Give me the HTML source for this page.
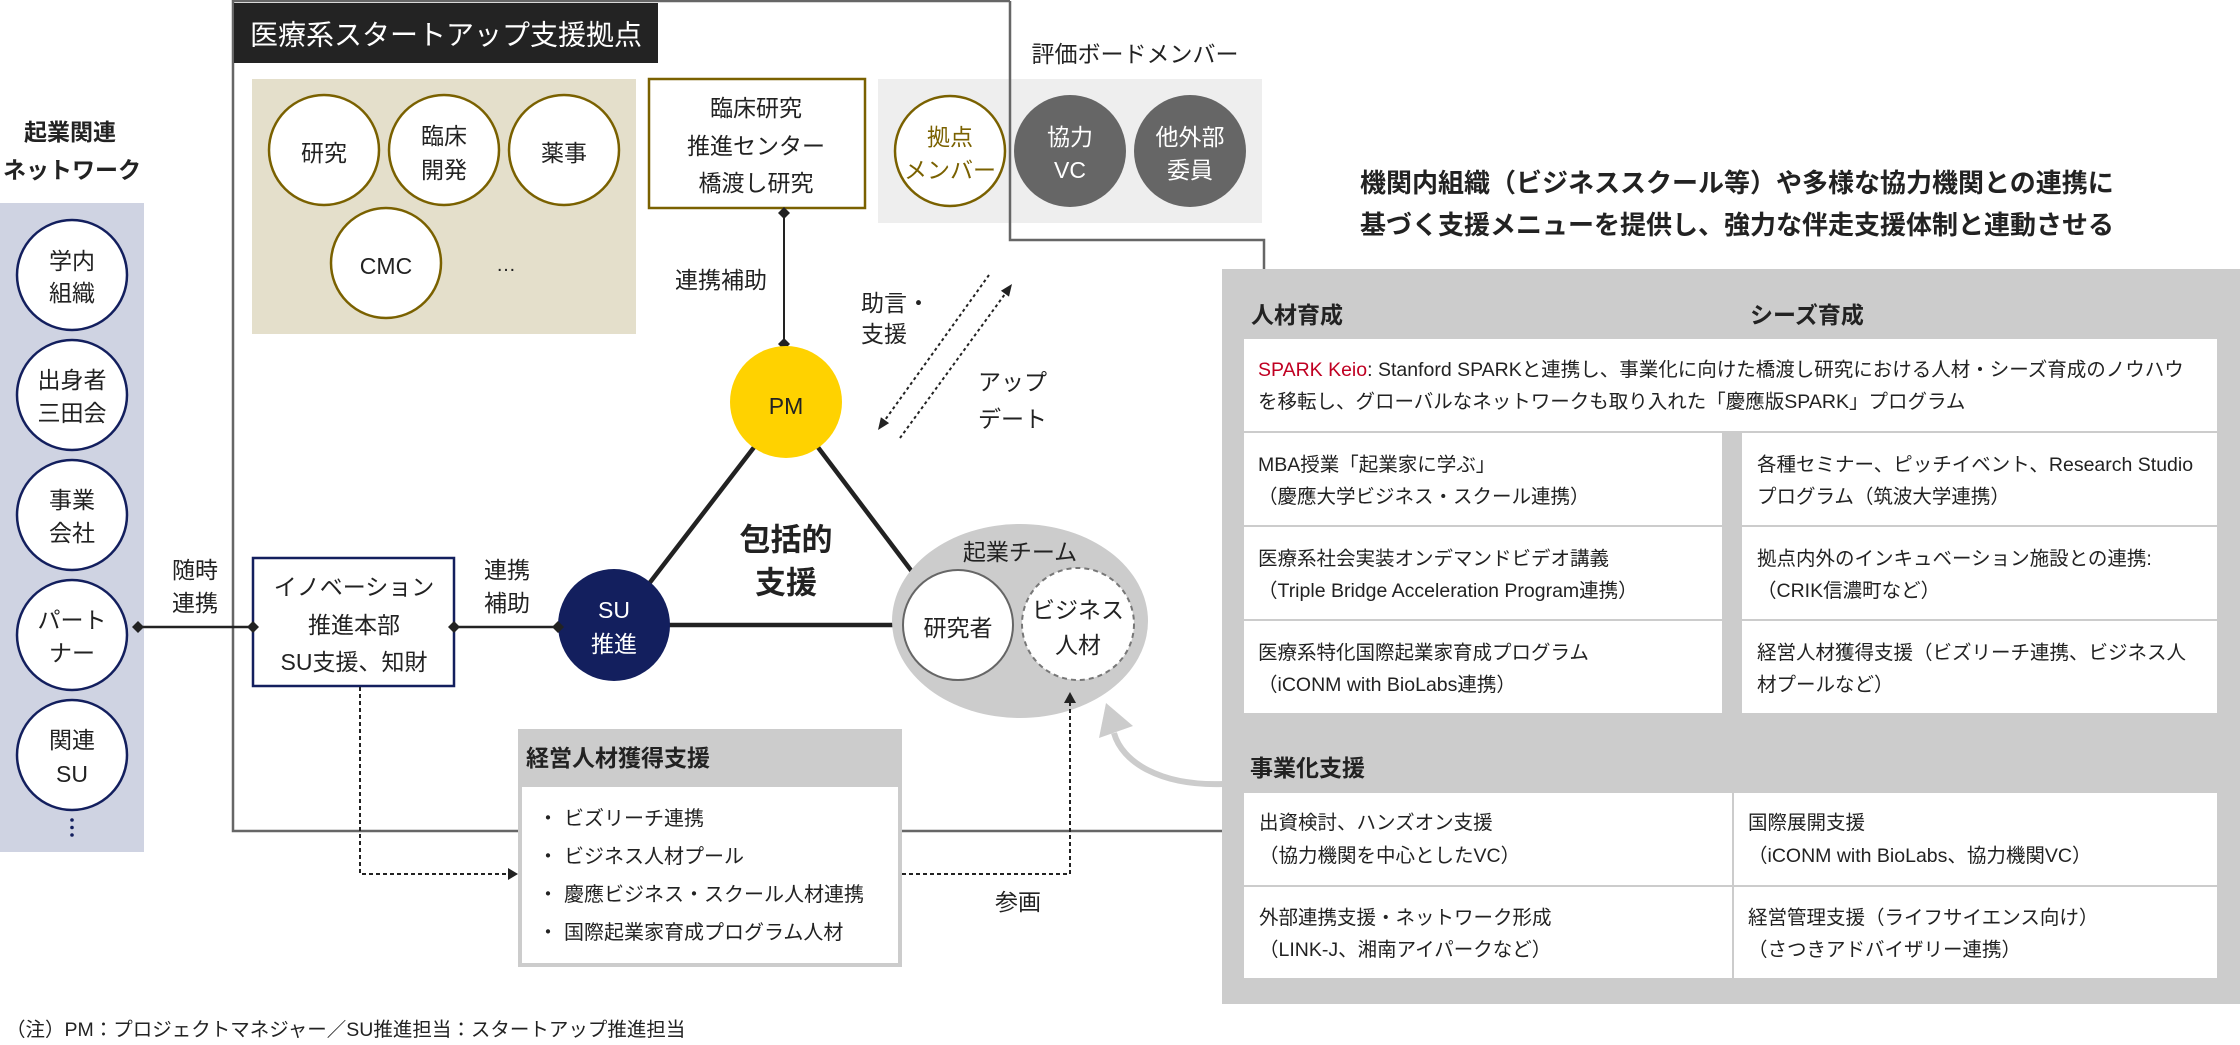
<!DOCTYPE html>
<html lang="ja">
<head>
<meta charset="utf-8">
<style>
html,body{margin:0;padding:0;background:#fff;}
body{width:2240px;height:1045px;overflow:hidden;}
svg{display:block;}
text{font-family:"Liberation Sans","Noto Sans CJK JP",sans-serif;dominant-baseline:central;fill:#222;}
.g{fill:#7a6100;}
.n{fill:#131f5e;}
.w{fill:#fff;}
.b{font-weight:bold;}
.s23{font-size:23px;}
.s20{font-size:19.5px;}
</style>
</head>
<body>
<svg width="2240" height="1045" viewBox="0 0 2240 1045" xmlns="http://www.w3.org/2000/svg">
  <!-- board gray area (under outer line) -->
  <rect x="878" y="79" width="384" height="144" fill="#eeeeee"/>

  <!-- outer box lines -->
  <path d="M1010,1 H233 V831 H1222" fill="none" stroke="#666" stroke-width="2.5"/>
  <path d="M1010,1 V240 H1264 V269" fill="none" stroke="#666" stroke-width="2.5"/>

  <!-- header -->
  <rect x="234" y="3" width="424" height="60" fill="#232323"/>
  <text x="446" y="35" text-anchor="middle" class="w" style="font-size:28px">医療系スタートアップ支援拠点</text>

  <!-- beige area -->
  <rect x="252" y="79" width="384" height="255" fill="#e4dfcb"/>
  <g fill="#fff" stroke="#7a6100" stroke-width="2.5">
    <circle cx="324" cy="150" r="55"/>
    <circle cx="444" cy="150" r="55"/>
    <circle cx="564" cy="150" r="55"/>
    <circle cx="386" cy="263" r="55"/>
  </g>
  <g class="g s23" text-anchor="middle">
    <text x="324" y="153">研究</text>
    <text x="444" y="136">臨床</text>
    <text x="444" y="170">開発</text>
    <text x="564" y="153">薬事</text>
    <text x="386" y="266">CMC</text>
    <text x="506" y="271" style="font-size:20px;dominant-baseline:alphabetic">…</text>
  </g>

  <!-- 臨床研究 box -->
  <rect x="649" y="79" width="216" height="129" fill="#fff" stroke="#7a6100" stroke-width="2.5"/>
  <g class="g s23" text-anchor="middle">
    <text x="756" y="108">臨床研究</text>
    <text x="756" y="146">推進センター</text>
    <text x="756" y="183">橋渡し研究</text>
  </g>

  <!-- board members -->
  <text x="1135" y="54" text-anchor="middle" class="s23">評価ボードメンバー</text>
  <circle cx="950" cy="151" r="55" fill="#fff" stroke="#7a6100" stroke-width="2.5"/>
  <circle cx="1070" cy="151" r="56" fill="#666"/>
  <circle cx="1190" cy="151" r="56" fill="#666"/>
  <g class="s23" text-anchor="middle">
    <text x="950" y="137" class="g">拠点</text>
    <text x="950" y="170" class="g">メンバー</text>
    <text x="1070" y="137" class="w">協力</text>
    <text x="1070" y="170" class="w">VC</text>
    <text x="1190" y="137" class="w">他外部</text>
    <text x="1190" y="170" class="w">委員</text>
  </g>

  <!-- 連携補助 vertical connector -->
  <line x1="784" y1="213" x2="784" y2="344" stroke="#222" stroke-width="2"/>
  <polygon points="778,213 784,207 790,213 784,219" fill="#222"/>
  <polygon points="778,344 784,338 790,344 784,350" fill="#222"/>
  <text x="721" y="280" text-anchor="middle" class="s23">連携補助</text>

  <!-- dotted advice arrows -->
  <line x1="989" y1="275" x2="885" y2="420" stroke="#222" stroke-width="2" stroke-dasharray="3 3"/>
  <polygon points="878,430 889.1,423.1 880.9,417.3" fill="#222"/>
  <line x1="900" y1="438" x2="1005" y2="294" stroke="#222" stroke-width="2" stroke-dasharray="3 3"/>
  <polygon points="1012,284 1009,296.6 1000.9,290.8" fill="#222"/>
  <g class="s23">
    <text x="861" y="303">助言・</text>
    <text x="861" y="334">支援</text>
    <text x="978" y="382">アップ</text>
    <text x="978" y="419">デート</text>
  </g>

  <!-- triangle -->
  <g stroke="#222" stroke-width="4.5">
    <line x1="755" y1="446" x2="648" y2="585"/>
    <line x1="817" y1="446" x2="913" y2="573"/>
    <line x1="668" y1="625" x2="894" y2="625"/>
  </g>
  <text x="786" y="540" text-anchor="middle" class="b" style="font-size:31px">包括的</text>
  <text x="786" y="583" text-anchor="middle" class="b" style="font-size:31px">支援</text>

  <!-- PM -->
  <circle cx="786" cy="402" r="56" fill="#ffd200"/>
  <text x="786" y="406" text-anchor="middle" class="s23">PM</text>

  <!-- SU circle -->
  <circle cx="614" cy="625" r="56" fill="#131f5e"/>
  <text x="614" y="610" text-anchor="middle" class="w s23">SU</text>
  <text x="614" y="644" text-anchor="middle" class="w s23">推進</text>

  <!-- team ellipse -->
  <ellipse cx="1020" cy="621" rx="128" ry="97" fill="#cccccc"/>
  <text x="1020" y="552" text-anchor="middle" class="s23">起業チーム</text>
  <circle cx="958" cy="625" r="55" fill="#fff" stroke="#666" stroke-width="2"/>
  <circle cx="1078" cy="624" r="56" fill="#fff" stroke="#777" stroke-width="2" stroke-dasharray="5 4"/>
  <text x="958" y="628" text-anchor="middle" class="s23">研究者</text>
  <text x="1078" y="610" text-anchor="middle" class="s23">ビジネス</text>
  <text x="1078" y="645" text-anchor="middle" class="s23">人材</text>

  <!-- left panel -->
  <text x="70" y="132" text-anchor="middle" class="b s23">起業関連</text>
  <text x="72" y="170" text-anchor="middle" class="b s23">ネットワーク</text>
  <rect x="0" y="203" width="144" height="649" fill="#cfd3e2"/>
  <g fill="#fff" stroke="#131f5e" stroke-width="2.5">
    <circle cx="72" cy="275" r="55"/>
    <circle cx="72" cy="395" r="55"/>
    <circle cx="72" cy="515" r="55"/>
    <circle cx="72" cy="635" r="55"/>
    <circle cx="72" cy="755" r="55"/>
  </g>
  <g class="n s23" text-anchor="middle">
    <text x="72" y="261">学内</text>
    <text x="72" y="293">組織</text>
    <text x="72" y="380">出身者</text>
    <text x="72" y="413">三田会</text>
    <text x="72" y="500">事業</text>
    <text x="72" y="533">会社</text>
    <text x="72" y="620">パート</text>
    <text x="72" y="653">ナー</text>
    <text x="72" y="740">関連</text>
    <text x="72" y="774">SU</text>
  </g>
  <g fill="#131f5e">
    <circle cx="72" cy="820" r="1.8"/>
    <circle cx="72" cy="827.5" r="1.8"/>
    <circle cx="72" cy="835" r="1.8"/>
  </g>

  <!-- 随時連携 connector -->
  <line x1="138" y1="627" x2="253" y2="627" stroke="#222" stroke-width="2.5"/>
  <polygon points="132,627 138,621 144,627 138,633" fill="#222"/>
  <text x="195" y="570" text-anchor="middle" class="s23">随時</text>
  <text x="195" y="603" text-anchor="middle" class="s23">連携</text>

  <!-- innovation box -->
  <rect x="253" y="558" width="201" height="128" fill="#fff" stroke="#131f5e" stroke-width="2.5"/>
  <polygon points="247,627 253,621 259,627 253,633" fill="#222"/>
  <g class="n s23" text-anchor="middle">
    <text x="354" y="587">イノベーション</text>
    <text x="354" y="625">推進本部</text>
    <text x="354" y="662">SU支援、知財</text>
  </g>

  <!-- 連携補助 horizontal -->
  <line x1="454" y1="627" x2="558" y2="627" stroke="#222" stroke-width="2.5"/>
  <polygon points="448,627 454,621 460,627 454,633" fill="#222"/>
  <polygon points="552,627 558,621 564,627 558,633" fill="#222"/>
  <text x="507" y="570" text-anchor="middle" class="s23">連携</text>
  <text x="507" y="603" text-anchor="middle" class="s23">補助</text>

  <!-- dotted connectors bottom -->
  <path d="M360,687 V874 H508" fill="none" stroke="#222" stroke-width="2" stroke-dasharray="4 3"/>
  <polygon points="518,874 508,868 508,880" fill="#222"/>
  <path d="M902,874 H1070 V702" fill="none" stroke="#222" stroke-width="2" stroke-dasharray="4 3"/>
  <polygon points="1070,692 1064,703 1076,703" fill="#222"/>
  <text x="1018" y="902" text-anchor="middle" class="s23">参画</text>

  <!-- 経営人材獲得支援 box -->
  <rect x="518" y="729" width="384" height="238" fill="#cccccc"/>
  <rect x="522" y="787" width="376" height="176" fill="#fff"/>
  <text x="526" y="758" class="b s23">経営人材獲得支援</text>
  <g style="font-size:20px">
    <text x="538" y="819">・</text><text x="564" y="819">ビズリーチ連携</text>
    <text x="538" y="857">・</text><text x="564" y="857">ビジネス人材プール</text>
    <text x="538" y="895">・</text><text x="564" y="895">慶應ビジネス・スクール人材連携</text>
    <text x="538" y="933">・</text><text x="564" y="933">国際起業家育成プログラム人材</text>
  </g>

  <!-- headline -->
  <text x="1360" y="183" class="b" style="font-size:26px">機関内組織（ビジネススクール等）や多様な協力機関との連携に</text>
  <text x="1360" y="225" class="b" style="font-size:26px">基づく支援メニューを提供し、強力な伴走支援体制と連動させる</text>

  <!-- right panel -->
  <rect x="1222" y="269" width="1018" height="735" fill="#cccccc"/>
  <text x="1251" y="315" class="b s23">人材育成</text>
  <text x="1750" y="315" class="b s23">シーズ育成</text>
  <g fill="#fff">
    <rect x="1244" y="339" width="973" height="92"/>
    <rect x="1244" y="433" width="478" height="92"/>
    <rect x="1742" y="433" width="475" height="92"/>
    <rect x="1244" y="527" width="478" height="92"/>
    <rect x="1742" y="527" width="475" height="92"/>
    <rect x="1244" y="621" width="478" height="92"/>
    <rect x="1742" y="621" width="475" height="92"/>
    <rect x="1244" y="793" width="488" height="92"/>
    <rect x="1734" y="793" width="483" height="92"/>
    <rect x="1244" y="887" width="488" height="91"/>
    <rect x="1734" y="887" width="483" height="91"/>
  </g>
  <g class="s20">
    <text x="1258" y="370"><tspan fill="#c00022">SPARK Keio</tspan>: Stanford SPARKと連携し、事業化に向けた橋渡し研究における人材・シーズ育成のノウハウ</text>
    <text x="1258" y="402">を移転し、グローバルなネットワークも取り入れた「慶應版SPARK」プログラム</text>

    <text x="1258" y="465">MBA授業「起業家に学ぶ」</text>
    <text x="1258" y="497">（慶應大学ビジネス・スクール連携）</text>
    <text x="1757" y="465">各種セミナー、ピッチイベント、Research Studio</text>
    <text x="1757" y="497">プログラム（筑波大学連携）</text>

    <text x="1258" y="559">医療系社会実装オンデマンドビデオ講義</text>
    <text x="1258" y="591">（Triple Bridge Acceleration Program連携）</text>
    <text x="1757" y="559">拠点内外のインキュベーション施設との連携:</text>
    <text x="1757" y="591">（CRIK信濃町など）</text>

    <text x="1258" y="653">医療系特化国際起業家育成プログラム</text>
    <text x="1258" y="685">（iCONM with BioLabs連携）</text>
    <text x="1757" y="653">経営人材獲得支援（ビズリーチ連携、ビジネス人</text>
    <text x="1757" y="685">材プールなど）</text>

    <text x="1259" y="823">出資検討、ハンズオン支援</text>
    <text x="1259" y="856">（協力機関を中心としたVC）</text>
    <text x="1748" y="823">国際展開支援</text>
    <text x="1748" y="856">（iCONM with BioLabs、協力機関VC）</text>

    <text x="1259" y="918">外部連携支援・ネットワーク形成</text>
    <text x="1259" y="950">（LINK-J、湘南アイパークなど）</text>
    <text x="1748" y="918">経営管理支援（ライフサイエンス向け）</text>
    <text x="1748" y="950">（さつきアドバイザリー連携）</text>
  </g>
  <text x="1250" y="768" class="b s23">事業化支援</text>

  <!-- curved gray arrow -->
  <path d="M1223,784 C1160,786 1122,762 1114,733" fill="none" stroke="#cccccc" stroke-width="6"/>
  <polygon points="1106,703 1099,738 1133,726" fill="#cccccc"/>

  <!-- footnote -->
  <text x="6" y="1030" class="s20">（注）PM：プロジェクトマネジャー／SU推進担当：スタートアップ推進担当</text>
</svg>
</body>
</html>
